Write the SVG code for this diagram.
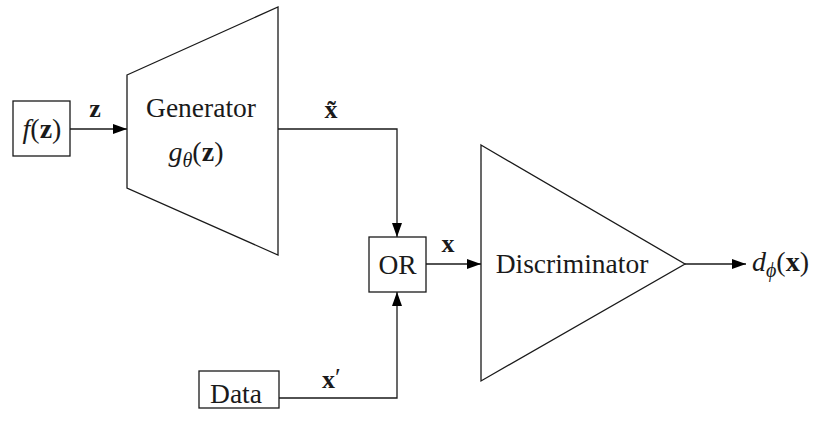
<svg xmlns="http://www.w3.org/2000/svg" width="816" height="428" viewBox="0 0 816 428">
<style>
.shape{fill:#fff;stroke:#1a1a1a;stroke-width:1.3}
.conn{fill:none;stroke:#1a1a1a;stroke-width:1.3}
text{font-family:"Liberation Serif","Times New Roman",serif;fill:#1a1a1a}
.lbl{font-size:27.5px}
.math{font-size:28px}
.lab{font-size:26px}
.b{font-weight:bold}
.i{font-style:italic}
</style>
<defs>
<marker id="arr" viewBox="0 0 14 10" refX="14" refY="5" markerWidth="14" markerHeight="10" markerUnits="userSpaceOnUse" orient="auto">
<path d="M0,0 L14,5 L0,10 Z" fill="#000"/>
</marker>
</defs>
<g id="connectors">
<line class="conn" x1="70" y1="129" x2="127" y2="129" marker-end="url(#arr)"/>
<polyline class="conn" points="278,129 397,129 397,237" marker-end="url(#arr)"/>
<polyline class="conn" points="279,398 397,398 397,292" marker-end="url(#arr)"/>
<line class="conn" x1="426" y1="264" x2="481" y2="264" marker-end="url(#arr)"/>
<line class="conn" x1="685" y1="264" x2="746" y2="264" marker-end="url(#arr)"/>
<text class="lab b" x="95" y="117" text-anchor="middle">z</text>
<text class="lab b" x="331" y="118" text-anchor="middle">x̃</text>
<text class="lab b" x="448" y="252" text-anchor="middle">x</text>
<text class="lab" x="322" y="388"><tspan class="b">x</tspan><tspan dy="-2">′</tspan></text>
</g>
<g id="fz">
<rect class="shape" x="13" y="101" width="57" height="55"/>
<text class="math" x="42" y="138" text-anchor="middle"><tspan class="i">f</tspan>(<tspan class="b">z</tspan>)</text>
</g>
<g id="generator">
<polygon class="shape" points="127,75 278,7 278,255 127,188"/>
<text class="lbl" x="201" y="117" text-anchor="middle">Generator</text>
<text class="math" x="196" y="161" text-anchor="middle"><tspan class="i">g</tspan><tspan class="i" font-size="20" dy="6">θ</tspan><tspan dy="-6">(</tspan><tspan class="b">z</tspan>)</text>
</g>
<g id="or">
<rect class="shape" x="369" y="237" width="57" height="55"/>
<text class="lbl" x="397.5" y="274" text-anchor="middle">OR</text>
</g>
<g id="data">
<rect class="shape" x="199" y="371" width="80" height="37"/>
<text class="lbl" x="236" y="403" text-anchor="middle">Data</text>
</g>
<g id="discriminator">
<polygon class="shape" points="481,145 685,264 481,381"/>
<text class="lbl" x="572" y="273" text-anchor="middle">Discriminator</text>
</g>
<g id="output">
<text class="math" x="752" y="271"><tspan class="i">d</tspan><tspan class="i" font-size="20" dy="6">ϕ</tspan><tspan dy="-6">(</tspan><tspan class="b">x</tspan>)</text>
</g>
</svg>
